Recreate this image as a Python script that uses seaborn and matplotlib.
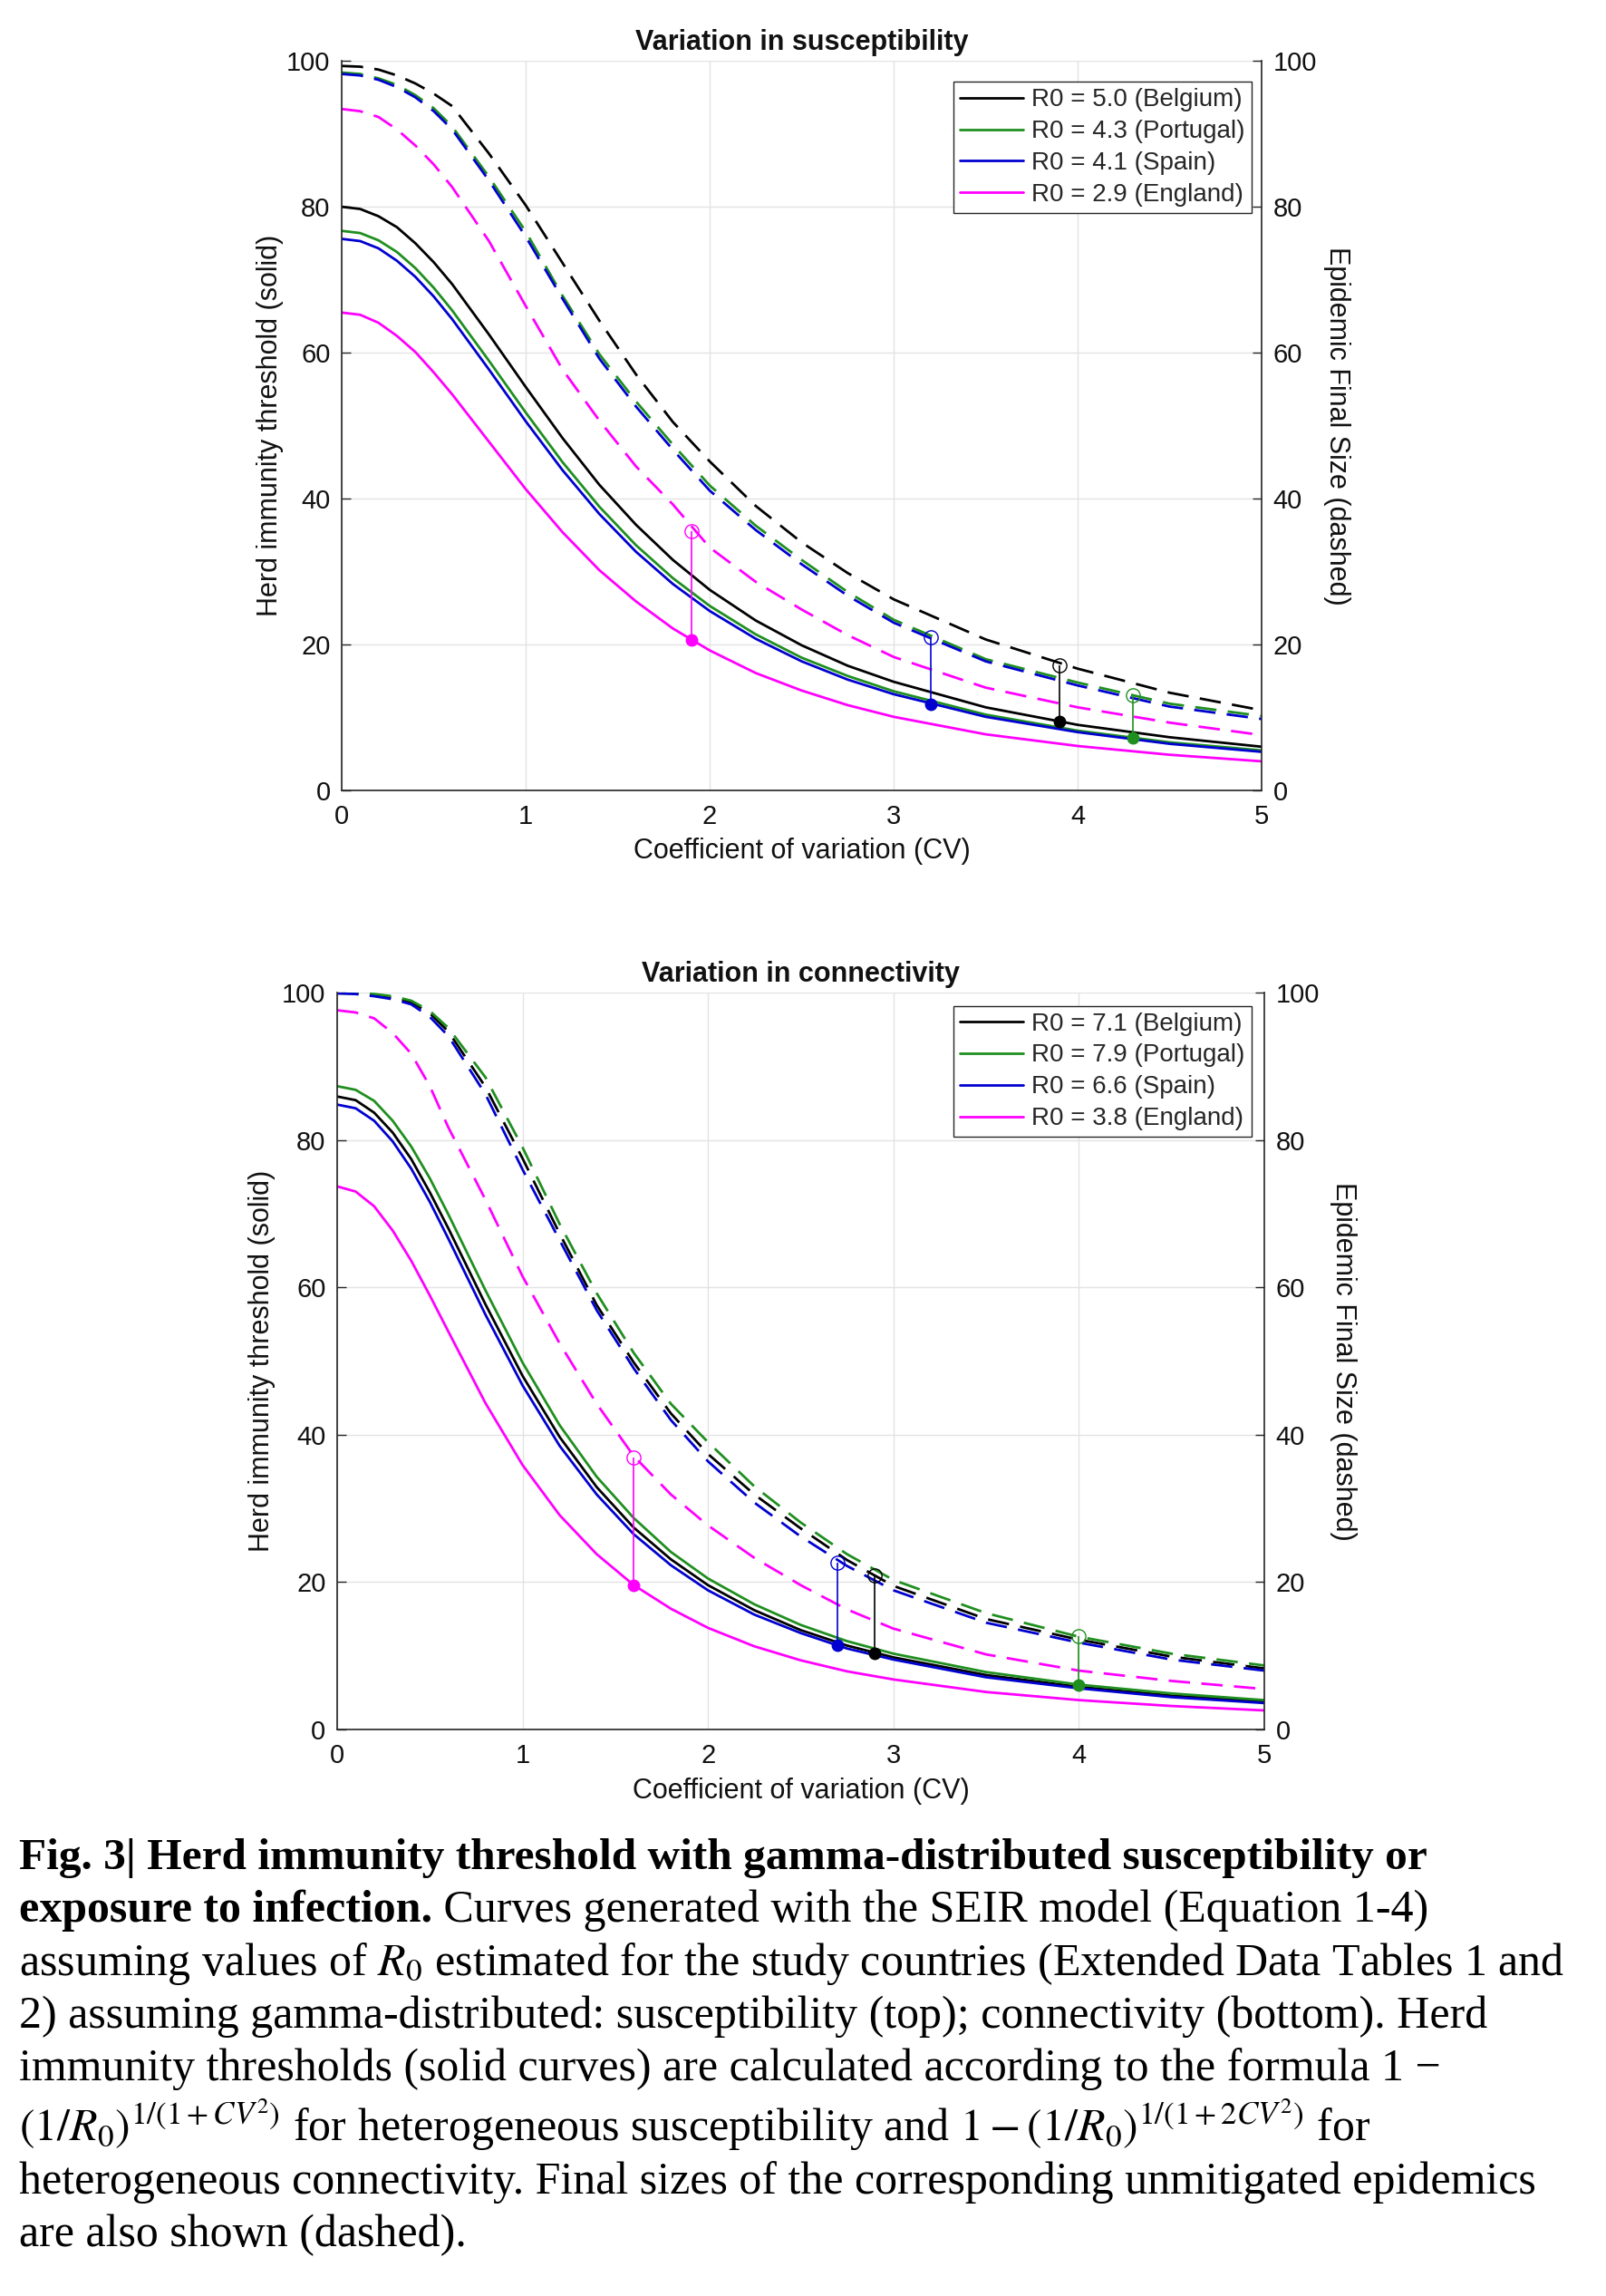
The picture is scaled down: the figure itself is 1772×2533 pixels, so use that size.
import matplotlib
matplotlib.use("Agg")
import matplotlib.pyplot as plt
import seaborn as sns

# coefficient of variation grid (x axis)
cv = [0, 0.1, 0.2, 0.3, 0.4, 0.5, 0.6, 0.8, 1.0, 1.2, 1.4, 1.6, 1.8, 2.0,
      2.25, 2.5, 2.75, 3.0, 3.5, 4.0, 4.5, 5.0]

countries = ["Belgium", "Portugal", "Spain", "England"]

# --- top panel: variation in susceptibility ---
r0_sus = ["5.0", "4.3", "4.1", "2.9"]
hit_sus = {
    "Belgium":  [80.0, 79.7, 78.7, 77.2, 75.0, 72.4, 69.4, 62.5, 55.3, 48.3, 41.9, 36.4, 31.6, 27.5, 23.3, 19.9, 17.1, 14.9, 11.4, 9.0, 7.3, 6.0],
    "Portugal": [76.7, 76.4, 75.4, 73.8, 71.6, 68.9, 65.8, 58.9, 51.8, 45.0, 38.9, 33.6, 29.1, 25.3, 21.4, 18.2, 15.7, 13.6, 10.4, 8.2, 6.6, 5.5],
    "Spain":    [75.6, 75.3, 74.3, 72.6, 70.4, 67.7, 64.6, 57.7, 50.6, 43.9, 37.9, 32.7, 28.3, 24.6, 20.8, 17.7, 15.2, 13.2, 10.1, 8.0, 6.4, 5.3],
    "England":  [65.5, 65.2, 64.1, 62.3, 60.1, 57.3, 54.3, 47.8, 41.3, 35.4, 30.2, 25.9, 22.2, 19.2, 16.1, 13.7, 11.7, 10.1, 7.7, 6.1, 4.9, 4.0],
}
fs_sus = {
    "Belgium":  [99.3, 99.2, 98.8, 98.0, 96.9, 95.5, 93.8, 87.3, 80.2, 72.3, 64.4, 57.0, 50.5, 45.1, 39.0, 34.0, 29.8, 26.2, 20.7, 16.7, 13.4, 11.0],
    "Portugal": [98.4, 98.2, 97.6, 96.7, 95.3, 93.5, 91.0, 84.1, 76.6, 67.8, 59.8, 53.3, 47.4, 41.8, 36.3, 31.6, 27.2, 23.4, 18.0, 14.8, 11.9, 10.2],
    "Spain":    [98.2, 98.0, 97.4, 96.4, 95.0, 93.1, 90.6, 83.6, 75.9, 67.4, 59.2, 52.6, 46.7, 41.1, 35.7, 31.0, 26.7, 23.0, 17.7, 14.4, 11.5, 9.8],
    "England":  [93.4, 93.1, 92.3, 90.6, 88.4, 85.8, 82.7, 75.3, 66.4, 57.7, 50.7, 44.4, 39.2, 33.3, 28.6, 24.8, 21.3, 18.3, 14.1, 11.4, 9.3, 7.6],
}
mark_cv_sus = [3.9, 4.3, 3.2, 1.9]
mark_hit_sus = [9.5, 7.2, 11.8, 20.6]
mark_fs_sus = [17.2, 13.1, 21.0, 35.6]

# --- bottom panel: variation in connectivity ---
r0_con = ["7.1", "7.9", "6.6", "3.8"]
hit_con = {
    "Belgium":  [85.9, 85.4, 83.7, 81.0, 77.4, 72.9, 68.0, 57.7, 48.0, 39.7, 32.9, 27.4, 23.1, 19.6, 16.2, 13.5, 11.4, 9.8, 7.4, 5.8, 4.6, 3.8],
    "Portugal": [87.3, 86.8, 85.3, 82.6, 79.1, 74.8, 69.9, 59.6, 49.8, 41.3, 34.3, 28.7, 24.1, 20.5, 17.0, 14.2, 12.0, 10.3, 7.8, 6.1, 4.9, 4.0],
    "Spain":    [84.8, 84.3, 82.6, 79.8, 76.1, 71.6, 66.6, 56.3, 46.7, 38.5, 31.9, 26.5, 22.3, 18.9, 15.6, 13.1, 11.0, 9.5, 7.1, 5.6, 4.4, 3.6],
    "England":  [73.7, 73.0, 71.0, 67.7, 63.6, 58.9, 54.0, 44.3, 35.9, 29.1, 23.8, 19.6, 16.4, 13.8, 11.3, 9.4, 7.9, 6.8, 5.1, 4.0, 3.2, 2.6],
}
fs_con = {
    "Belgium":  [99.9, 99.9, 99.6, 99.3, 98.7, 97.2, 94.7, 87.2, 77.5, 67.3, 57.6, 49.8, 42.9, 37.4, 31.9, 27.3, 23.0, 19.5, 15.0, 12.2, 9.9, 8.3],
    "Portugal": [100.0, 100.0, 99.8, 99.5, 98.9, 97.5, 95.2, 88.5, 79.0, 68.6, 59.2, 51.1, 44.2, 39.0, 33.0, 28.1, 23.8, 20.3, 15.8, 12.6, 10.3, 8.7],
    "Spain":    [99.9, 99.8, 99.5, 99.1, 98.4, 96.7, 94.1, 86.2, 76.0, 66.4, 56.9, 49.0, 42.0, 36.4, 30.8, 26.2, 22.2, 18.9, 14.5, 11.8, 9.5, 8.0],
    "England":  [97.6, 97.3, 96.5, 94.5, 91.7, 87.3, 81.7, 71.9, 61.5, 52.4, 44.2, 37.1, 31.9, 27.7, 23.3, 19.6, 16.3, 13.7, 10.2, 8.0, 6.6, 5.5],
}
mark_cv_con = [2.9, 4.0, 2.7, 1.6]
mark_hit_con = [10.4, 6.1, 11.4, 19.6]
mark_fs_con = [20.9, 12.7, 22.6, 36.9]

colors = {"Belgium": "#000000", "Portugal": "#1f8f1f", "Spain": "#0000d0", "England": "#ff00ff"}
axis_col = "#262626"

sns.set_style("white")
plt.rcParams["font.family"] = ["Liberation Sans", "DejaVu Sans"]
plt.rcParams["mathtext.fontset"] = "stix"

fig = plt.figure(figsize=(17.72, 25.33), dpi=100)
ax_top = fig.add_axes([0.2128, 0.6557, 0.5728, 0.3178])
ax_bot = fig.add_axes([0.2099, 0.2467, 0.5773, 0.3210])


def draw_panel(ax, title, r0, hit, fs, m_cv, m_hit, m_fs, leg_anchor, ylab_x):
    solid = []
    for c, r in zip(countries, r0):
        sns.lineplot(x=cv, y=hit[c], ax=ax, color=colors[c], lw=2.0,
                     sort=False, errorbar=None, legend=False)
        line = ax.lines[-1]
        line.set_label(f"R0 = {r} ({c})")
        solid.append(line)
    for c in countries:
        sns.lineplot(x=cv, y=fs[c], ax=ax, color=colors[c], lw=2.0,
                     sort=False, errorbar=None, legend=False)
        ax.lines[-1].set_dashes([8.5, 4.5])
    for i, c in enumerate(countries):
        ax.vlines(m_cv[i], m_hit[i], m_fs[i], colors=colors[c], lw=1.2, zorder=4)
        ax.plot(m_cv[i], m_hit[i], "o", color=colors[c], ms=9, zorder=5)
        ax.plot(m_cv[i], m_fs[i], "o", mfc="none", mec=colors[c], ms=11, mew=1.0, zorder=5)

    ax.set_xlim(0, 5)
    ax.set_ylim(0, 100)
    ax.set_xticks(range(0, 6))
    ax.set_yticks(range(0, 101, 20))
    ax.grid(True, color="#e3e3e3", lw=1.0)
    ax.set_axisbelow(True)
    for s in ["top", "right"]:
        ax.spines[s].set_visible(False)
    for s in ["left", "bottom"]:
        ax.spines[s].set_color(axis_col)
        ax.spines[s].set_linewidth(1.2)
    ax.tick_params(direction="in", length=7, width=1.0, colors=axis_col,
                   labelsize=21, pad=9, labelcolor="#111111")
    ax.tick_params(axis="x", pad=11)

    ax.set_xlabel("Coefficient of variation (CV)", fontsize=22, color="#111111")
    ax.xaxis.set_label_coords(0.5, -0.083)
    ax.xaxis.label.set_va("center")
    ax.set_ylabel("Herd immunity threshold (solid)", fontsize=22, color="#111111")
    ax.yaxis.set_label_coords(-ylab_x, 0.5)
    ax.yaxis.label.set_va("center")
    ax.text(0.5, 1.025, title, transform=ax.transAxes, ha="center", va="center",
            fontsize=22, fontweight="bold", color="#111111")

    ax2 = ax.twinx()
    ax2.set_ylim(0, 100)
    ax2.set_yticks(range(0, 101, 20))
    for s in ["top", "left", "bottom"]:
        ax2.spines[s].set_visible(False)
    ax2.spines["right"].set_color(axis_col)
    ax2.spines["right"].set_linewidth(1.2)
    ax2.tick_params(direction="in", length=7, width=1.0, colors=axis_col,
                    labelsize=21, pad=9, labelcolor="#111111")
    ax2.set_ylabel("Epidemic Final Size (dashed)", fontsize=22, rotation=270,
                   color="#111111")
    ax2.yaxis.set_label_coords(1 + ylab_x + 0.004, 0.5)
    ax2.yaxis.label.set_va("center")

    leg = ax2.legend(handles=solid, loc="upper right", bbox_to_anchor=leg_anchor,
                     bbox_transform=ax.transAxes, fontsize=20, frameon=True,
                     fancybox=False, framealpha=1, edgecolor=axis_col,
                     borderpad=0.25, labelspacing=0.32, handlelength=2.5,
                     handletextpad=0.35, borderaxespad=0)
    leg.get_frame().set_linewidth(1.0)


draw_panel(ax_top, "Variation in susceptibility", r0_sus, hit_sus, fs_sus,
           mark_cv_sus, mark_hit_sus, mark_fs_sus, (0.989, 0.971), 0.078)
draw_panel(ax_bot, "Variation in connectivity", r0_con, hit_con, fs_con,
           mark_cv_con, mark_hit_con, mark_fs_con, (0.986, 0.982), 0.081)

# --- caption ---
W, H = 1772, 2533
cap = dict(fontsize=36, family=["Liberation Serif", "DejaVu Serif"], color="black",
           va="baseline", ha="left")
x0 = 21 / W
baselines = [2062, 2120, 2179, 2237, 2295, 2362, 2420, 2478]

fig.text(x0, 1 - baselines[0] / H,
         "Fig. 3| Herd immunity threshold with gamma-distributed susceptibility or",
         fontweight="bold", **{**cap, "fontsize": 35.6})
t_bold = fig.text(x0, 1 - baselines[1] / H, "exposure to infection.", fontweight="bold", **cap)
fig.canvas.draw()
bb = t_bold.get_window_extent(fig.canvas.get_renderer())
fig.text(bb.x1 / fig.bbox.width, 1 - baselines[1] / H,
         " Curves generated with the SEIR model (Equation 1-4)", **cap)
lines = [
    "assuming values of $R_0$ estimated for the study countries (Extended Data Tables 1 and",
    "2) assuming gamma-distributed: susceptibility (top); connectivity (bottom). Herd",
    "immunity thresholds (solid curves) are calculated according to the formula 1 \u2212",
    "$(1/R_0)^{1/(1+CV^2)}$ for heterogeneous susceptibility and $1-(1/R_0)^{1/(1+2CV^2)}$ for",
    "heterogeneous connectivity. Final sizes of the corresponding unmitigated epidemics",
    "are also shown (dashed).",
]
for txt, yb in zip(lines, baselines[2:]):
    fig.text(x0, 1 - yb / H, txt, **cap)

fig.savefig("out.png", dpi=100)
